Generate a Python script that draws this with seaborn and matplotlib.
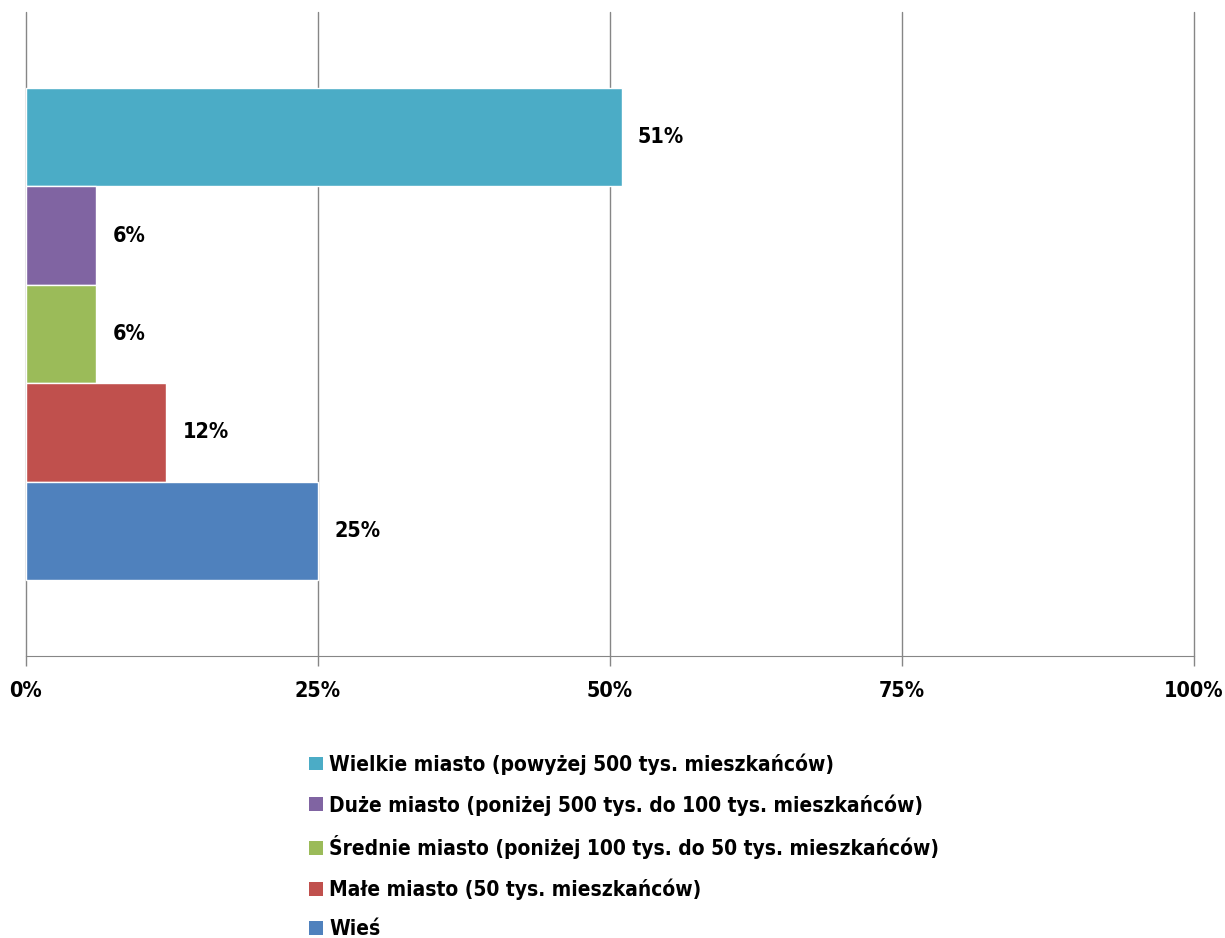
import pandas as pd
import matplotlib.pyplot as plt
import seaborn as sns
from matplotlib import font_manager
from matplotlib.patches import Patch

categories = [
    "Wielkie miasto (powyżej 500 tys. mieszkańców)",
    "Duże miasto (poniżej 500 tys. do 100 tys. mieszkańców)",
    "Średnie miasto (poniżej 100 tys. do 50 tys. mieszkańców)",
    "Małe miasto (50 tys. mieszkańców)",
    "Wieś",
]
values = [51, 6, 6, 12, 25]
colors = ["#4BACC6", "#8064A2", "#9BBB59", "#C0504D", "#4F81BD"]
xticks = [0, 25, 50, 75, 100]

# wybór wąskiej czcionki jeśli jest dostępna
names = {f.name for f in font_manager.fontManager.ttflist}
family = "Liberation Sans Narrow" if "Liberation Sans Narrow" in names else "DejaVu Sans"
stretch = "normal" if family == "Liberation Sans Narrow" else "condensed"

sns.set_style("white")
plt.rcParams["font.family"] = [family, "DejaVu Sans"]
plt.rcParams["font.weight"] = "bold"
plt.rcParams["text.color"] = "black"

df = pd.DataFrame({"kategoria": categories, "wartosc": values})

fig = plt.figure(figsize=(12.25, 9.38), dpi=100)
ax = fig.add_axes([26 / 1225, (938 - 656) / 938, 1168 / 1225, 644 / 938])

sns.barplot(data=df, x="wartosc", y="kategoria", hue="kategoria", palette=colors,
            order=categories, width=1.0, edgecolor="white", linewidth=1,
            saturation=1, legend=False, ax=ax)

ax.set_xlim(0, 100)
ax.set_ylim(4.5 + 0.77, -0.5 - 0.77)
ax.set_xticks(xticks)
ax.set_xticklabels([f"{t}%" for t in xticks], fontsize=15.5, fontweight="bold",
                   fontstretch=stretch, color="black")
ax.set_yticks([])
ax.set_xlabel("")
ax.set_ylabel("")
ax.tick_params(axis="x", length=7, width=1, color="#868686", pad=11, direction="out",
               bottom=True)
ax.grid(axis="x", color="#868686", linewidth=1)
for line in ax.get_xgridlines():
    line.set_clip_on(False)
ax.set_axisbelow(True)
for s in ["top", "right", "left"]:
    ax.spines[s].set_visible(False)
ax.spines["bottom"].set_color("#868686")

for i, v in enumerate(values):
    ax.text(v + 1.4, i, f"{v}%", va="center", ha="left", fontsize=15.5,
            fontweight="bold", fontstretch=stretch, color="black")

handles = [Patch(facecolor=c, edgecolor="none") for c in colors]
leg = fig.legend(handles, categories, loc="upper left",
                 bbox_to_anchor=(301 / 1225, 1 - 745 / 938),
                 frameon=False, handlelength=0.65, handleheight=0.65,
                 handletextpad=0.3, labelspacing=0.93, borderaxespad=0,
                 prop={"weight": "bold", "size": 15, "stretch": stretch})
for t in leg.get_texts():
    t.set_color("black")

fig.savefig("out.png", dpi=100)
